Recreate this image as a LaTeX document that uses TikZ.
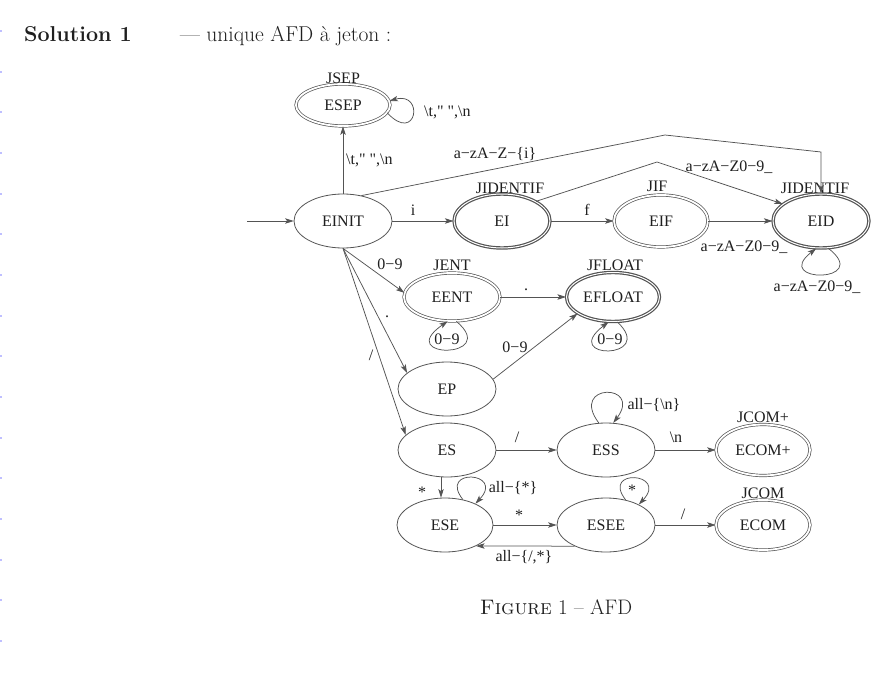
\documentclass[tikz,border=0pt]{standalone}
\usepackage{fontspec}
\usetikzlibrary{shapes.geometric,arrows.meta}
\newfontfamily\tf{Liberation Serif}
\definecolor{lc}{gray}{0.33}
\definecolor{tc}{gray}{0.12}
\begin{document}
\begin{tikzpicture}[x=1pt,y=-1pt,
  st/.style={ellipse, draw=lc, line width=0.8pt, minimum width=98pt, minimum height=54pt,
    inner sep=0pt, font=\tf\fontsize{16}{18}\selectfont, text=tc},
  acc/.style={st, double, double distance=1.8pt, line width=0.7pt},
  accb/.style={st, double, double distance=1pt, line width=1.2pt},
  lab/.style={font=\tf\fontsize{16}{18}\selectfont, text=tc, inner sep=0pt},
  arr/.style={draw=lc, line width=0.75pt, -{Stealth[length=8.5pt,width=5.5pt,inset=2pt]}}]
\useasboundingbox (0,0) rectangle (889,677);
\foreach \k in {-1,...,14} \fill[blue!25] (0,{71.7+40.67*\k-1}) rectangle (2,{71.7+40.67*\k+1});

% header and caption
\node[anchor=base west, inner sep=0pt, text=tc, font=\fontsize{21.5}{24}\selectfont\bfseries] (sol) at (24,42) {Solution 1};
\node[anchor=base west, inner sep=0pt, text=tc, font=\fontsize{21.5}{24}\selectfont] (sub) at (180,42) {--- unique AFD à jeton :};
\node[inner sep=0pt, text=tc, font=\fontsize{21}{24}\selectfont] (cap) at (556,607) {\textsc{Figure} 1 -- AFD};

% states
\node[st] (EINIT) at (343,221) {EINIT};
\node[acc, minimum width=94pt, minimum height=42pt] (ESEP) at (343,105) {ESEP};
\node[accb, minimum width=96pt, minimum height=54pt] (EI) at (502,221) {EI};
\node[acc, minimum width=94pt, minimum height=52pt] (EIF) at (661,221) {EIF};
\node[accb, minimum width=96pt, minimum height=54pt] (EID) at (821,221) {EID};
\node[acc, minimum width=96pt, minimum height=48pt] (EENT) at (452,297) {EENT};
\node[accb, minimum width=93pt, minimum height=49pt] (EFLOAT) at (613,297) {EFLOAT};
\node[st] (EP) at (447,389) {EP};
\node[st] (ES) at (447,450) {ES};
\node[st] (ESS) at (606,450) {ESS};
\node[acc, minimum width=94pt, minimum height=51pt] (ECOMp) at (763,450) {ECOM+};
\node[st, minimum width=96pt] (ESE) at (445,525) {ESE};
\node[st] (ESEE) at (606,525) {ESEE};
\node[acc, minimum width=94pt, minimum height=50pt] (ECOM) at (763,525) {ECOM};

% token labels
\node[lab] (jsep) at (343,78) {JSEP};
\node[lab] (jid1) at (510,188) {JIDENTIF};
\node[lab] (jif) at (657,186) {JIF};
\node[lab] (jid2) at (815,188) {JIDENTIF};
\node[lab] (jent) at (452,265) {JENT};
\node[lab] (jfloat) at (615,265) {JFLOAT};
\node[lab] (jcomp) at (763,417) {JCOM+};
\node[lab] (jcom) at (763,493) {JCOM};

% edges
\coordinate (start) at (247,221);
\draw[arr] (start) -- (EINIT);
\draw[arr] (EINIT.north) -- (ESEP.south);
\draw[arr] (ESEP.-10) .. controls +(30,32) and +(35,-10) .. (ESEP.5);
\draw[arr] (EINIT) -- (EI);
\draw[arr] (EI) -- (EIF);
\draw[arr] (EIF) -- (EID);
\coordinate (pk1) at (657,162);
\draw[arr] (EI.30) -- (pk1) -- (EID.156);
\coordinate (pk2) at (665,135);
\coordinate (pk3) at (821,152);
\draw[arr] (EINIT.54) -- (pk2) -- (pk3) -- (EID.north);
\draw[arr] (EID.-75) .. controls +(45,35) and +(-45,35) .. (EID.-100);
\draw[arr] (EINIT.south) -- (EENT.175);
\draw[arr] (EINIT.south) -- (EP.158);
\draw[arr] (EINIT.south) -- (ES.160);
\draw[arr] (EENT) -- (EFLOAT);
\draw[arr] (EENT.-80) .. controls +(45,38) and +(-55,38) .. (EENT.-100);
\draw[arr] (EFLOAT.-80) .. controls +(40,38) and +(-50,38) .. (EFLOAT.-100);
\draw[arr] (EP.12) -- (EFLOAT.205);
\draw[arr] (ES) -- (ESS);
\draw[arr] (ESS) -- (ECOMp);
\draw[arr] (ESS.105) .. controls +(-30,-40) and +(30,-40) .. (ESS.75);
\draw[arr] ([xshift=-6pt]ES.south) -- ([xshift=-6pt]ES.south |- ESE.north);
\draw[arr] (ESE.55) .. controls +(-25,-32) and +(30,-32) .. (ESE.35);
\draw[arr] (ESE) -- (ESEE);
\draw[arr] (ESEE.52) .. controls +(-25,-32) and +(30,-32) .. (ESEE.32);
\draw[arr] (ESEE.214.3) -- (ESE.-34.8);
\draw[arr] (ESEE) -- (ECOM);

% edge labels
\node[lab, anchor=west] (l1) at (424,112) {\textbackslash t," ",\textbackslash n};
\node[lab, anchor=west] (l2) at (346,160) {\textbackslash t," ",\textbackslash n};
\node[lab] (l3) at (413,210) {i};
\node[lab] (l4) at (587,210) {f};
\node[lab] (l5) at (495,154) {a−zA−Z−\{i\}};
\node[lab] (l6) at (729,167) {a−zA−Z0−9\_};
\node[lab] (l7) at (744,247) {a−zA−Z0−9\_};
\node[lab] (l8) at (817,287) {a−zA−Z0−9\_};
\node[lab] (l9) at (390,264) {0−9};
\node[lab] (l10) at (526,290) {.};
\node[lab] (l11) at (387,317) {.};
\node[lab] (l12) at (371,355) {/};
\node[lab] (l13) at (515,347) {0−9};
\node[lab] (l14) at (447,339) {0−9};
\node[lab] (l15) at (610,339) {0−9};
\node[lab] (l16) at (517,437) {/};
\node[lab] (l17) at (676,437) {\textbackslash n};
\node[lab] (l18) at (654,405) {all−\{\textbackslash n\}};
\node[lab] (l19) at (422,492) {*};
\node[lab] (l20) at (513,488) {all−\{*\}};
\node[lab] (l21) at (519,515) {*};
\node[lab] (l22) at (632,490) {*};
\node[lab] (l23) at (683,514) {/};
\node[lab] (l24) at (524,557) {all−\{/,*\}};
\end{tikzpicture}
\end{document}
